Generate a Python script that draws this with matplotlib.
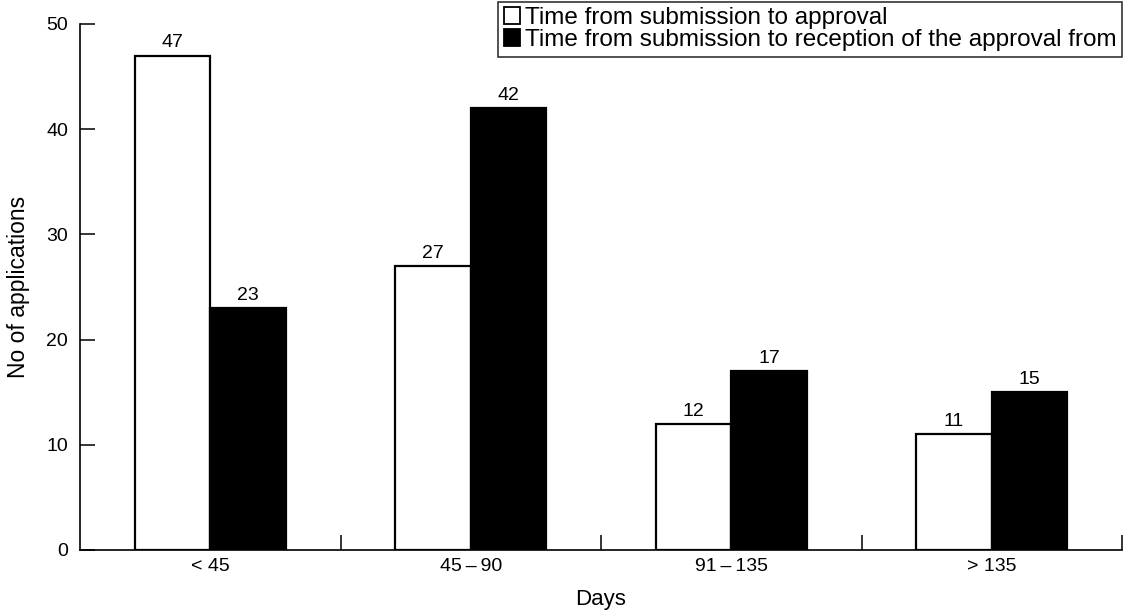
import numpy as np
import matplotlib.pyplot as plt
from matplotlib.patches import Patch

plt.rcParams["font.family"] = ["Liberation Sans", "DejaVu Sans"]

categories = ["< 45", "45\u2009\u2013\u200990", "91\u2009\u2013\u2009135", "> 135"]
approval = [47, 27, 12, 11]
reception = [23, 42, 17, 15]
series_names = ["Time from submission to approval",
                "Time from submission to reception of the approval from"]


def main():
    fig = plt.figure(figsize=(11.24, 6.16), dpi=100)
    ax = fig.add_axes([80 / 1124, 1 - 550 / 616, 1042 / 1124, 526 / 616])

    x = np.arange(len(categories))
    width = 0.29
    bars1 = ax.bar(x - width / 2, approval, width, color="white",
                   edgecolor="black", linewidth=1.6)
    bars2 = ax.bar(x + width / 2, reception, width, color="black",
                   edgecolor="black", linewidth=1.6)

    # value labels on top of each bar
    for bars, vals in ((bars1, approval), (bars2, reception)):
        for b, v in zip(bars, vals):
            ax.annotate(str(v), (b.get_x() + b.get_width() / 2, v),
                        xytext=(0, 3), textcoords="offset points",
                        ha="center", va="bottom", fontsize=14)

    ax.set_xlim(-0.5, 3.5)
    ax.set_ylim(0, 50)
    ax.set_yticks([0, 10, 20, 30, 40, 50])
    ax.set_xticks(x)
    ax.set_xticklabels(categories)
    ax.set_xticks([0.5, 1.5, 2.5, 3.5], minor=True)
    ax.tick_params(axis="x", which="major", length=0, pad=6, labelsize=14)
    ax.tick_params(axis="x", which="minor", direction="in", length=11,
                   width=1.1)
    ax.tick_params(axis="y", direction="in", length=11, width=1.1, pad=8.5,
                   labelsize=14)

    for s in ("top", "right"):
        ax.spines[s].set_visible(False)
    for s in ("left", "bottom"):
        ax.spines[s].set_linewidth(1.2)

    ax.set_ylabel("No of applications", fontsize=16.5)
    ax.yaxis.set_label_coords(-0.048, 0.5)
    ax.set_xlabel("Days", fontsize=16)
    ax.xaxis.set_label_coords(0.5, -0.074)

    handles = [Patch(facecolor="white", edgecolor="black", linewidth=1.3),
               Patch(facecolor="black", edgecolor="black", linewidth=1.3)]
    leg = fig.legend(handles, series_names, loc="upper right",
                     bbox_to_anchor=(1122 / 1124, 1 - 2 / 616),
                     fontsize=17.5, frameon=True, fancybox=False,
                     handlelength=0.68, handleheight=0.68, handletextpad=0.2,
                     borderpad=0.22, labelspacing=0.0, borderaxespad=0)
    leg.get_frame().set_edgecolor("black")
    leg.get_frame().set_linewidth(1.2)

    fig.savefig("out.png", dpi=100)


if __name__ == "__main__":
    main()
